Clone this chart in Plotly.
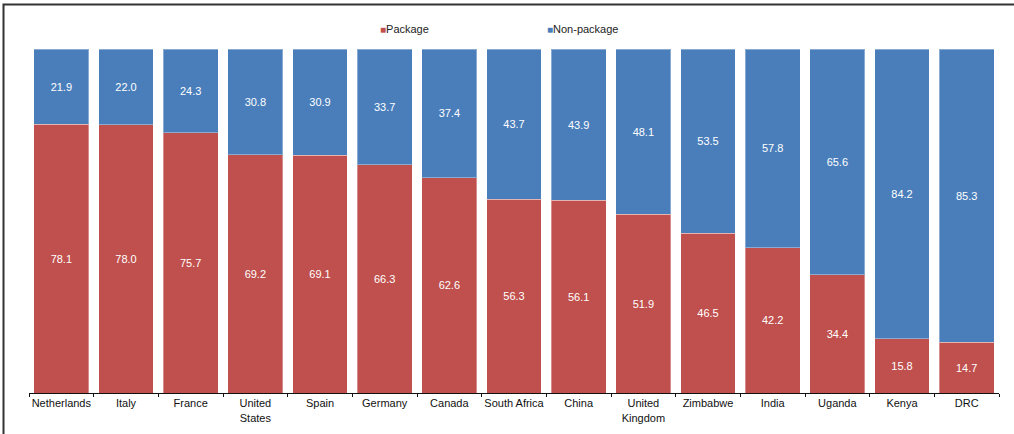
import plotly.graph_objects as go

countries = ["Netherlands", "Italy", "France", "United<br>States", "Spain", "Germany",
             "Canada", "South Africa", "China", "United<br>Kingdom", "Zimbabwe", "India",
             "Uganda", "Kenya", "DRC"]
package = [78.1, 78.0, 75.7, 69.2, 69.1, 66.3, 62.6, 56.3, 56.1, 51.9, 46.5, 42.2, 34.4, 15.8, 14.7]
non_package = [21.9, 22.0, 24.3, 30.8, 30.9, 33.7, 37.4, 43.7, 43.9, 48.1, 53.5, 57.8, 65.6, 84.2, 85.3]

RED = "#C0504D"
BLUE = "#4A7EBB"
FONT = "Liberation Sans, Arial, sans-serif"

fig = go.Figure()
for name, vals, col in [("Package", package, RED), ("Non-package", non_package, BLUE)]:
    fig.add_trace(go.Bar(
        x=countries, y=vals, name=name,
        marker=dict(color=col, line=dict(color="rgba(255,255,255,0.35)", width=1)),
        text=[f"{v:.1f}" for v in vals],
        textposition="inside", insidetextanchor="middle",
        textfont=dict(color="white", size=11, family=FONT),
        showlegend=False,
    ))

# legend drawn as coloured squares beside the series names
for name, col, xpx in [("Package", RED, 378), ("Non-package", BLUE, 545)]:
    fig.add_annotation(
        xref="paper", yref="paper",
        x=(xpx - 29) / 970, y=1 + (49 - 29) / 344,
        xanchor="left", yanchor="middle", showarrow=False,
        text=f"<span style='color:{col};font-size:10px'>■</span>{name}",
        font=dict(size=11, color="#222", family=FONT),
    )

# outer frame around the chart
fig.add_shape(type="rect", xref="paper", yref="paper",
              x0=(3.5 - 29) / 970, x1=1.2, y0=-0.3, y1=1 + (49 - 4.5) / 344,
              line=dict(color="#333", width=2), fillcolor="rgba(0,0,0,0)", layer="above")

fig.update_layout(
    barmode="stack", bargap=0.15,
    width=1014, height=434,
    margin=dict(l=29, r=15, t=49, b=41, autoexpand=False),
    paper_bgcolor="white", plot_bgcolor="white",
    font=dict(family=FONT, size=11, color="#111"),
    xaxis=dict(showline=True, linecolor="#111", linewidth=1, ticks="outside",
               tickson="boundaries", ticklen=3, tickcolor="#111", tickangle=0,
               automargin=False,
               tickfont=dict(size=11, color="#111"), showgrid=False),
    yaxis=dict(visible=False, range=[0, 100]),
)

fig.write_html("out.html")
